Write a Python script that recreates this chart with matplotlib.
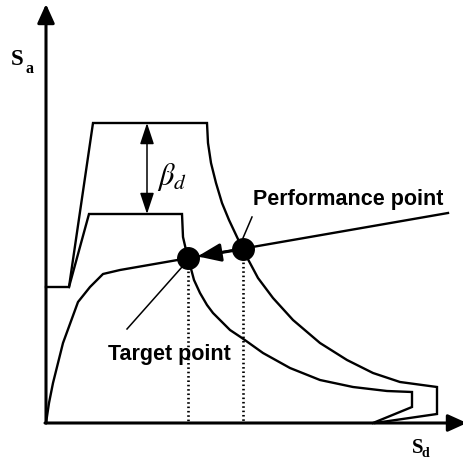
import matplotlib
matplotlib.use("Agg")
import matplotlib.pyplot as plt

# Capacity spectrum method sketch in ADRS format (Sa vs Sd), schematic units

# elastic demand spectrum (upper) and reduced demand spectrum (lower)
outer_sd = [0, 23, 47, 161, 162, 165, 170, 176, 183, 191, 197, 204, 212, 227,
            247, 274, 301, 327, 354, 391, 391, 329]
outer_sa = [136, 136, 300, 300, 280, 260, 240, 220, 203, 186, 173, 160, 145, 125,
            103, 80, 63, 50, 41, 36, 9, 0]

inner_sd = [23, 43, 136, 137, 140, 142, 144, 148, 154, 161, 167, 184, 196, 217,
            244, 274, 307, 341, 366, 366, 327]
inner_sa = [136, 209, 209, 186, 173, 165, 158, 143, 130, 118, 110, 93, 85, 70,
            55, 43, 36, 32, 31, 16, 0]

# capacity curve
cap_sd = [0, 3, 7, 17, 32, 44, 57, 74, 402]
cap_sa = [0, 20, 40, 80, 121, 136, 149, 153, 210]

# target point and performance point (on the capacity curve)
target = (142, 165)
performance = (196.5, 174)

# damping reduction between the two spectra plateaus
beta_sd = 101
beta_sa = (209, 300)

# axis extents
sd_max = 421
sa_max = 419

# label anchors and leader lines
perf_label = (207, 218)
target_label = (62, 63)
perf_leader = [(197, 206), (185, 206)]
target_leader = [(136, 81), (156, 94)]

fig = plt.figure(figsize=(4.63, 4.61), dpi=100)
ax = fig.add_axes([0, 0, 1, 1])
ax.set_xlim(-46, 417)
ax.set_ylim(-38, 423)
ax.axis("off")

lw_curve = 1.7
# axes with arrowheads
axis_arrow = dict(arrowstyle="-|>,head_length=11.5,head_width=5.2",
                  lw=2.2, color="black", shrinkA=0, shrinkB=0, mutation_scale=1)
ax.annotate("", xy=(0, sa_max), xytext=(0, 0), arrowprops=axis_arrow,
            annotation_clip=False)
ax.annotate("", xy=(sd_max, 0), xytext=(-1, 0), arrowprops=axis_arrow,
            annotation_clip=False)

ax.plot(outer_sd, outer_sa, color="black", lw=lw_curve, solid_joinstyle="miter")
ax.plot(inner_sd, inner_sa, color="black", lw=lw_curve, solid_joinstyle="miter")
ax.plot(cap_sd, cap_sa, color="black", lw=lw_curve)

# dotted projections down to the Sd axis
for px, py in (target, performance):
    ax.plot([px, px], [py, 0], color="black", lw=1.9,
            linestyle=(0, (0.6, 1.05)), dash_capstyle="butt")

# shift from performance point to target point
ax.annotate("", xy=target, xytext=performance,
            arrowprops=dict(arrowstyle="-|>,head_length=14,head_width=5.5",
                            lw=2.2, color="black", shrinkA=7.5, shrinkB=7.0,
                            mutation_scale=1))

ax.scatter([target[0], performance[0]], [target[1], performance[1]],
           s=15.5 ** 2, color="black", zorder=5)

# beta_d double arrow
ax.annotate("", xy=(beta_sd, beta_sa[0]), xytext=(beta_sd, beta_sa[1]),
            arrowprops=dict(arrowstyle="<|-|>,head_length=13,head_width=4.3",
                            lw=1.1, color="black", shrinkA=0, shrinkB=0,
                            mutation_scale=1))
ax.text(111, 238, r"$\beta_d$", fontsize=22, color="black",
        math_fontfamily="stix", ha="left", va="baseline")

# leader lines and labels
ax.plot(*perf_leader, color="black", lw=1.1)
ax.plot(*target_leader, color="black", lw=1.1)
ax.text(*perf_label, "Performance point", fontsize=15.5, fontweight="bold",
        family="Liberation Sans", ha="left", va="baseline")
ax.text(*target_label, "Target point", fontsize=15.5, fontweight="bold",
        family="Liberation Sans", ha="left", va="baseline")

# axis titles
ax.text(-35, 358, "S", fontsize=16.5, fontweight="bold", family="Liberation Serif",
        ha="left", va="baseline")
ax.text(-20, 350, "a", fontsize=11.5, fontweight="bold", family="Liberation Serif",
        ha="left", va="baseline")
ax.text(366, -30, "S", fontsize=15, fontweight="bold", family="Liberation Serif",
        ha="left", va="baseline")
ax.text(376, -34, "d", fontsize=10, fontweight="bold", family="Liberation Serif",
        ha="left", va="baseline")

fig.savefig("out.png", dpi=100)
